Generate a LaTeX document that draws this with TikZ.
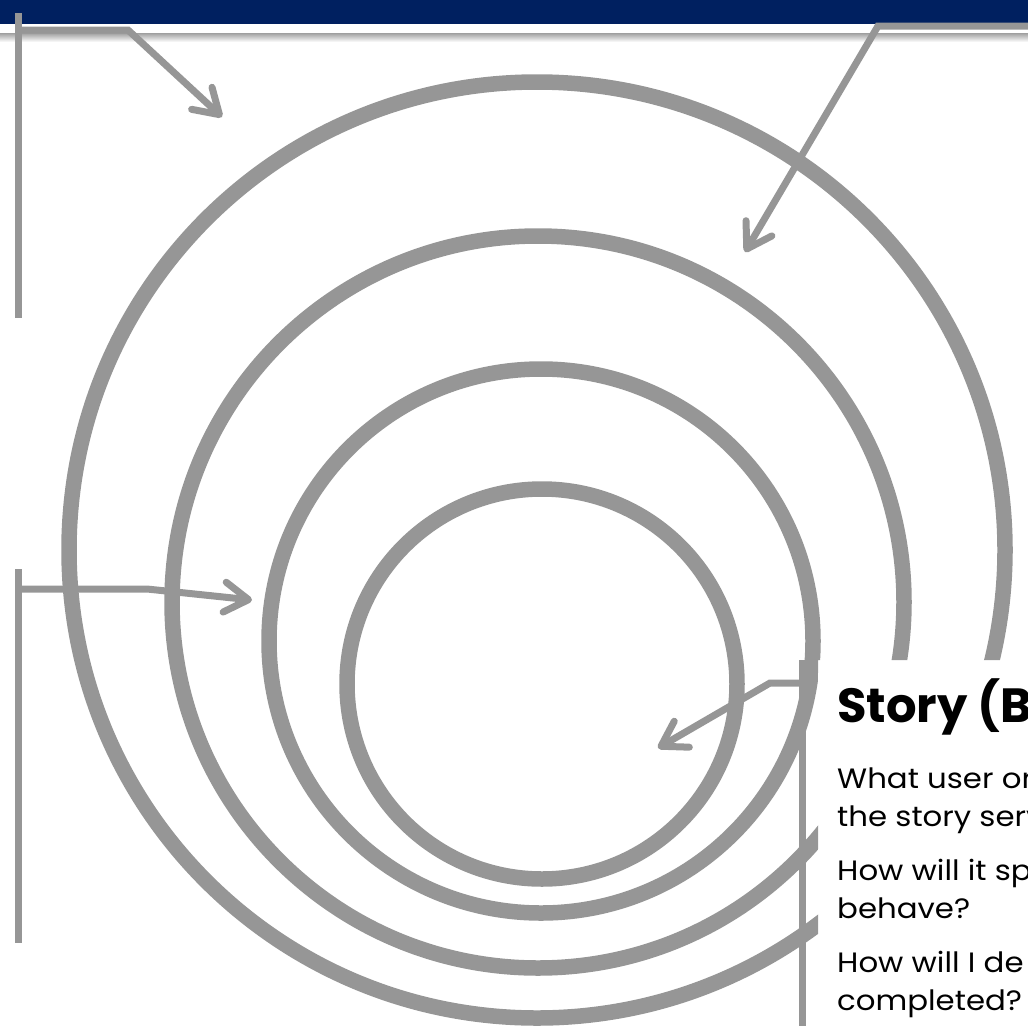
\documentclass[tikz,border=0pt]{standalone}
\usepackage{fontspec}
\setmainfont{Poppins}
\newfontfamily\widefont[FakeStretch=1.1]{Poppins}
\usetikzlibrary{arrows.meta}
\definecolor{barblue}{RGB}{0,32,96}
\definecolor{ringgray}{RGB}{150,150,150}
\tikzset{
  ring/.style={draw=ringgray,line width=15.5pt},
  bracket/.style={draw=ringgray,line width=7pt},
  pointer/.style={bracket,-{Straight Barb[length=24pt,width=30pt,round]}},
  question/.style={anchor=base west,align=left,inner sep=0pt,font=\widefont\fontsize{28}{38}\selectfont},
}
\begin{document}
\begin{tikzpicture}[x=1pt,y=-1pt]
  \useasboundingbox (0,0) rectangle (1028,1026);
  % header bar
  \fill[barblue] (0,0) rectangle (1028,24);
  \shade[top color=gray!75,bottom color=white] (0,33) rectangle (1028,42);
  % rings, cut away behind the text
  \begin{scope}
    \clip (0,0) -- (1028,0) -- (1028,660) -- (818,660) -- (818,1026) -- (0,1026) -- cycle;
    \draw[ring] (537,550) circle (468pt);
    \draw[ring] (538,602) circle (366pt);
    \draw[ring] (541,641) circle (272pt);
    \draw[ring] (542,684) circle (195pt);
  \end{scope}
  % end points of the pointers
  \coordinate (tlTop) at (18,13);
  \coordinate (tlBot) at (18,318);
  \coordinate (tlFoot) at (18,30);
  \coordinate (tlBend) at (128,30);
  \coordinate (tlTip) at (222,117);
  \coordinate (trFoot) at (1028,26);
  \coordinate (trBend) at (878,26);
  \coordinate (trTip) at (745,252);
  \coordinate (mlTop) at (18,569);
  \coordinate (mlBot) at (18,943);
  \coordinate (mlFoot) at (18,589);
  \coordinate (mlBend) at (147,589);
  \coordinate (mlTip) at (252,600);
  \coordinate (mrTop) at (802,660);
  \coordinate (mrBot) at (802,1026);
  \coordinate (mrFoot) at (802,683);
  \coordinate (mrBend) at (770,683);
  \coordinate (mrTip) at (658,748);
  \draw[bracket] (tlTop) -- (tlBot);
  \draw[bracket] (mlTop) -- (mlBot);
  \draw[bracket] (mrTop) -- (mrBot);
  \draw[pointer] (tlFoot) -- (tlBend) -- (tlTip);
  \draw[pointer] (trFoot) -- (trBend) -- (trTip);
  \draw[pointer] (mlFoot) -- (mlBend) -- (mlTip);
  \draw[pointer] (mrFoot) -- (mrBend) -- (mrTip);
  % story text
  \node[anchor=base west,inner sep=0pt,font=\fontsize{48}{58}\selectfont\bfseries] (title) at (837,722) {Story (B};
  \node[question] (q1) at (837,826) {What user or\\the story serv};
  \node[question] (q2) at (837,918) {How will it sp\\behave?};
  \node[question] (q3) at (837,1010) {How will I de\\completed?};
\end{tikzpicture}
\end{document}
